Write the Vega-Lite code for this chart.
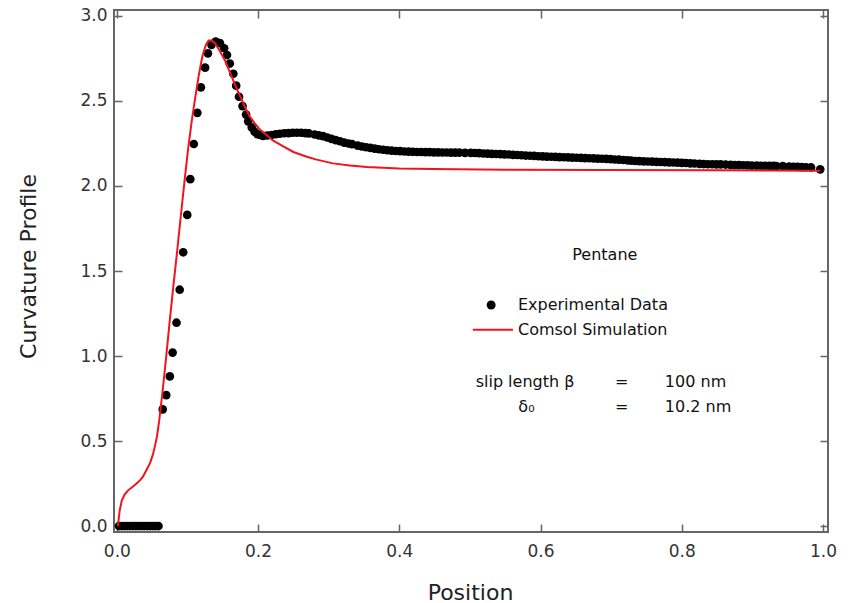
{
  "$schema": "https://vega.github.io/schema/vega-lite/v6.json",
  "width": 714,
  "height": 522,
  "autosize": "none",
  "padding": {"left": 114, "top": 10, "right": 20, "bottom": 71},
  "background": "white",
  "config": {
    "view": {"stroke": "#666", "strokeWidth": 2},
    "font": "DejaVu Sans",
    "axis": {"grid": false, "domain": false, "tickColor": "#666", "tickWidth": 1.5, "tickSize": -8, "labelFontSize": 17, "labelColor": "#333", "titleFontSize": 22, "titleFontWeight": "normal", "titleColor": "#222"}
  },
  "datasets": {
    "exp": [
      {"x": 0.003, "y": 0}, {"x": 0.007, "y": 0}, {"x": 0.011, "y": 0}, {"x": 0.015, "y": 0}, {"x": 0.019, "y": 0},
      {"x": 0.023, "y": 0}, {"x": 0.027, "y": 0}, {"x": 0.031, "y": 0}, {"x": 0.035, "y": 0}, {"x": 0.039, "y": 0},
      {"x": 0.043, "y": 0}, {"x": 0.047, "y": 0}, {"x": 0.051, "y": 0}, {"x": 0.055, "y": 0}, {"x": 0.059, "y": 0},
      {"x": 0.065, "y": 0.686}, {"x": 0.070, "y": 0.77}, {"x": 0.075, "y": 0.88}, {"x": 0.079, "y": 1.02},
      {"x": 0.0845, "y": 1.196}, {"x": 0.089, "y": 1.39}, {"x": 0.094, "y": 1.61}, {"x": 0.0997, "y": 1.83},
      {"x": 0.104, "y": 2.04}, {"x": 0.109, "y": 2.247}, {"x": 0.114, "y": 2.43}, {"x": 0.119, "y": 2.58},
      {"x": 0.125, "y": 2.696}, {"x": 0.129, "y": 2.78}, {"x": 0.134, "y": 2.83}, {"x": 0.140, "y": 2.85},
      {"x": 0.146, "y": 2.84}, {"x": 0.152, "y": 2.81}, {"x": 0.156, "y": 2.77}, {"x": 0.160, "y": 2.72},
      {"x": 0.165, "y": 2.66}, {"x": 0.169, "y": 2.59}, {"x": 0.173, "y": 2.525}, {"x": 0.178, "y": 2.47},
      {"x": 0.183, "y": 2.42}, {"x": 0.186, "y": 2.38}, {"x": 0.191, "y": 2.345}, {"x": 0.195, "y": 2.32},
      {"x": 0.199, "y": 2.305}, {"x": 0.203, "y": 2.30},
      {"x": 0.207, "y": 2.295}, {"x": 0.213, "y": 2.297}, {"x": 0.219, "y": 2.300}, {"x": 0.225, "y": 2.304},
      {"x": 0.231, "y": 2.307}, {"x": 0.237, "y": 2.310}, {"x": 0.243, "y": 2.311}, {"x": 0.249, "y": 2.313},
      {"x": 0.255, "y": 2.313}, {"x": 0.261, "y": 2.313}, {"x": 0.267, "y": 2.311}, {"x": 0.272, "y": 2.309},
      {"x": 0.280, "y": 2.303}, {"x": 0.286, "y": 2.298}, {"x": 0.292, "y": 2.293}, {"x": 0.298, "y": 2.285},
      {"x": 0.304, "y": 2.277}, {"x": 0.310, "y": 2.270}, {"x": 0.316, "y": 2.263}, {"x": 0.322, "y": 2.255},
      {"x": 0.328, "y": 2.250}, {"x": 0.333, "y": 2.246},
      {"x": 0.341, "y": 2.237}, {"x": 0.347, "y": 2.232}, {"x": 0.353, "y": 2.228}, {"x": 0.359, "y": 2.224},
      {"x": 0.365, "y": 2.220}, {"x": 0.371, "y": 2.216}, {"x": 0.377, "y": 2.213}, {"x": 0.383, "y": 2.210},
      {"x": 0.389, "y": 2.208}, {"x": 0.395, "y": 2.206}, {"x": 0.401, "y": 2.205}, {"x": 0.407, "y": 2.203},
      {"x": 0.413, "y": 2.202}, {"x": 0.419, "y": 2.201}, {"x": 0.425, "y": 2.200}, {"x": 0.431, "y": 2.200},
      {"x": 0.437, "y": 2.199}, {"x": 0.443, "y": 2.199}, {"x": 0.449, "y": 2.198}, {"x": 0.455, "y": 2.198},
      {"x": 0.461, "y": 2.197}, {"x": 0.467, "y": 2.197}, {"x": 0.473, "y": 2.196}, {"x": 0.479, "y": 2.196},
      {"x": 0.485, "y": 2.196}, {"x": 0.493, "y": 2.195},
      {"x": 0.501, "y": 2.195}, {"x": 0.507, "y": 2.194}, {"x": 0.513, "y": 2.193}, {"x": 0.519, "y": 2.191},
      {"x": 0.525, "y": 2.190}, {"x": 0.531, "y": 2.189}, {"x": 0.537, "y": 2.188}, {"x": 0.543, "y": 2.187},
      {"x": 0.549, "y": 2.186}, {"x": 0.555, "y": 2.185}, {"x": 0.561, "y": 2.183}, {"x": 0.567, "y": 2.182},
      {"x": 0.573, "y": 2.181}, {"x": 0.579, "y": 2.179}, {"x": 0.585, "y": 2.178}, {"x": 0.591, "y": 2.177},
      {"x": 0.597, "y": 2.175}, {"x": 0.603, "y": 2.174}, {"x": 0.609, "y": 2.173}, {"x": 0.615, "y": 2.172},
      {"x": 0.621, "y": 2.171}, {"x": 0.627, "y": 2.170}, {"x": 0.633, "y": 2.169}, {"x": 0.639, "y": 2.168},
      {"x": 0.645, "y": 2.167}, {"x": 0.651, "y": 2.166}, {"x": 0.657, "y": 2.165}, {"x": 0.663, "y": 2.164},
      {"x": 0.669, "y": 2.163}, {"x": 0.675, "y": 2.162}, {"x": 0.681, "y": 2.161}, {"x": 0.687, "y": 2.160},
      {"x": 0.693, "y": 2.159}, {"x": 0.699, "y": 2.158}, {"x": 0.705, "y": 2.156}, {"x": 0.711, "y": 2.155},
      {"x": 0.717, "y": 2.153}, {"x": 0.723, "y": 2.151}, {"x": 0.728, "y": 2.149},
      {"x": 0.734, "y": 2.147}, {"x": 0.740, "y": 2.146}, {"x": 0.746, "y": 2.145}, {"x": 0.752, "y": 2.144},
      {"x": 0.758, "y": 2.143}, {"x": 0.764, "y": 2.142}, {"x": 0.770, "y": 2.141}, {"x": 0.776, "y": 2.140},
      {"x": 0.782, "y": 2.139}, {"x": 0.788, "y": 2.138}, {"x": 0.794, "y": 2.137}, {"x": 0.800, "y": 2.136},
      {"x": 0.806, "y": 2.135}, {"x": 0.812, "y": 2.133}, {"x": 0.818, "y": 2.132}, {"x": 0.825, "y": 2.130},
      {"x": 0.831, "y": 2.129}, {"x": 0.837, "y": 2.128}, {"x": 0.843, "y": 2.128}, {"x": 0.849, "y": 2.127},
      {"x": 0.855, "y": 2.127}, {"x": 0.862, "y": 2.126},
      {"x": 0.869, "y": 2.124}, {"x": 0.875, "y": 2.123}, {"x": 0.881, "y": 2.123}, {"x": 0.887, "y": 2.122},
      {"x": 0.893, "y": 2.121}, {"x": 0.899, "y": 2.120},
      {"x": 0.906, "y": 2.120}, {"x": 0.912, "y": 2.119}, {"x": 0.918, "y": 2.119}, {"x": 0.924, "y": 2.118},
      {"x": 0.930, "y": 2.118}, {"x": 0.934, "y": 2.117},
      {"x": 0.943, "y": 2.117},
      {"x": 0.952, "y": 2.114}, {"x": 0.958, "y": 2.113}, {"x": 0.964, "y": 2.112}, {"x": 0.970, "y": 2.111},
      {"x": 0.976, "y": 2.110}, {"x": 0.983, "y": 2.109},
      {"x": 0.996, "y": 2.098}
    ],
    "sim": [
      {"x": 0.0015, "y": 0.0}, {"x": 0.004, "y": 0.09}, {"x": 0.007, "y": 0.15}, {"x": 0.011, "y": 0.185},
      {"x": 0.016, "y": 0.21}, {"x": 0.022, "y": 0.23}, {"x": 0.028, "y": 0.25}, {"x": 0.033, "y": 0.27},
      {"x": 0.037, "y": 0.29}, {"x": 0.042, "y": 0.33}, {"x": 0.047, "y": 0.37}, {"x": 0.051, "y": 0.42},
      {"x": 0.054, "y": 0.47}, {"x": 0.057, "y": 0.53}, {"x": 0.060, "y": 0.62}, {"x": 0.065, "y": 0.80},
      {"x": 0.070, "y": 1.00}, {"x": 0.075, "y": 1.21}, {"x": 0.080, "y": 1.41}, {"x": 0.085, "y": 1.60},
      {"x": 0.090, "y": 1.80}, {"x": 0.096, "y": 2.035}, {"x": 0.101, "y": 2.22}, {"x": 0.106, "y": 2.38},
      {"x": 0.111, "y": 2.52}, {"x": 0.116, "y": 2.65}, {"x": 0.121, "y": 2.76}, {"x": 0.126, "y": 2.83},
      {"x": 0.130, "y": 2.855}, {"x": 0.134, "y": 2.855}, {"x": 0.139, "y": 2.84}, {"x": 0.145, "y": 2.80},
      {"x": 0.153, "y": 2.74}, {"x": 0.160, "y": 2.67}, {"x": 0.165, "y": 2.62}, {"x": 0.171, "y": 2.56},
      {"x": 0.177, "y": 2.506}, {"x": 0.183, "y": 2.45}, {"x": 0.188, "y": 2.41}, {"x": 0.195, "y": 2.37},
      {"x": 0.203, "y": 2.33}, {"x": 0.212, "y": 2.30}, {"x": 0.221, "y": 2.268}, {"x": 0.235, "y": 2.235},
      {"x": 0.250, "y": 2.20}, {"x": 0.259, "y": 2.187}, {"x": 0.269, "y": 2.172}, {"x": 0.283, "y": 2.155},
      {"x": 0.306, "y": 2.133}, {"x": 0.330, "y": 2.12}, {"x": 0.354, "y": 2.111}, {"x": 0.40, "y": 2.103},
      {"x": 0.448, "y": 2.10}, {"x": 0.55, "y": 2.096}, {"x": 0.684, "y": 2.094}, {"x": 0.85, "y": 2.092},
      {"x": 0.996, "y": 2.09}
    ],
    "textLeft": [
      {"x": 0.568, "y": 1.30, "t": "Experimental Data"},
      {"x": 0.568, "y": 1.155, "t": "Comsol Simulation"},
      {"x": 0.776, "y": 0.85, "t": "100 nm"},
      {"x": 0.776, "y": 0.70, "t": "10.2 nm"}
    ],
    "textCenter": [
      {"x": 0.691, "y": 1.594, "t": "Pentane"},
      {"x": 0.578, "y": 0.85, "t": "slip length β"},
      {"x": 0.715, "y": 0.85, "t": "="},
      {"x": 0.580, "y": 0.70, "t": "δ₀"},
      {"x": 0.715, "y": 0.70, "t": "="}
    ],
    "legDot": [{"x": 0.530, "y": 1.30}],
    "legLine": [{"x": 0.504, "x2": 0.561, "y": 1.155}]
  },
  "layer": [
    {
      "data": {"name": "exp"},
      "mark": {"type": "point", "filled": true, "color": "black", "size": 75, "opacity": 1},
      "encoding": {
        "x": {"field": "x", "type": "quantitative", "scale": {"domain": [-0.004, 1.007], "nice": false, "zero": false},
          "axis": {"orient": "bottom", "values": [0, 0.2, 0.4, 0.6, 0.8, 1.0], "format": ".1f", "labelPadding": 19, "title": "Position", "titleX": 356, "titleY": 60, "titleBaseline": "middle"}},
        "y": {"field": "y", "type": "quantitative", "scale": {"domain": [-0.035, 3.035], "nice": false, "zero": false},
          "axis": {"orient": "left", "values": [0, 0.5, 1.0, 1.5, 2.0, 2.5, 3.0], "format": ".1f", "labelPadding": 15, "title": "Curvature Profile", "titleX": -86, "titleY": 256, "titleBaseline": "middle", "titleAngle": -90}}
      }
    },
    {
      "data": {"name": "sim"},
      "mark": {"type": "line", "color": "#f0141e", "strokeWidth": 2},
      "encoding": {
        "x": {"field": "x", "type": "quantitative", "axis": {"orient": "top", "values": [0, 0.2, 0.4, 0.6, 0.8, 1.0], "labels": false, "title": null}},
        "y": {"field": "y", "type": "quantitative", "axis": {"orient": "right", "values": [0, 0.5, 1.0, 1.5, 2.0, 2.5, 3.0], "labels": false, "title": null}}
      }
    },
    {
      "data": {"name": "legDot"},
      "mark": {"type": "point", "filled": true, "color": "black", "size": 80, "opacity": 1},
      "encoding": {
        "x": {"field": "x", "type": "quantitative", "axis": null},
        "y": {"field": "y", "type": "quantitative", "axis": null}
      }
    },
    {
      "data": {"name": "legLine"},
      "mark": {"type": "rule", "color": "#f0141e", "strokeWidth": 2},
      "encoding": {
        "x": {"field": "x", "type": "quantitative", "axis": null},
        "x2": {"field": "x2"},
        "y": {"field": "y", "type": "quantitative", "axis": null}
      }
    },
    {
      "data": {"name": "textLeft"},
      "mark": {"type": "text", "align": "left", "baseline": "middle", "fontSize": 16, "color": "#111"},
      "encoding": {
        "x": {"field": "x", "type": "quantitative", "axis": null},
        "y": {"field": "y", "type": "quantitative", "axis": null},
        "text": {"field": "t"}
      }
    },
    {
      "data": {"name": "textCenter"},
      "mark": {"type": "text", "align": "center", "baseline": "middle", "fontSize": 16, "color": "#111"},
      "encoding": {
        "x": {"field": "x", "type": "quantitative", "axis": null},
        "y": {"field": "y", "type": "quantitative", "axis": null},
        "text": {"field": "t"}
      }
    }
  ],
  "resolve": {"axis": {"x": "independent", "y": "independent"}}
}
